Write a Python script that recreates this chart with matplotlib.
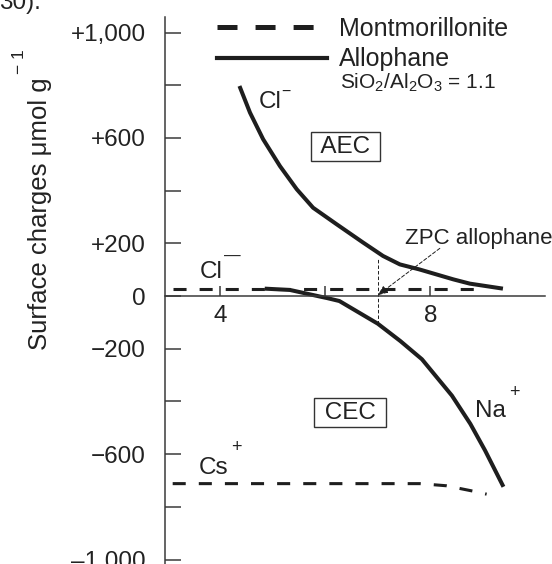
import numpy as np
import matplotlib
matplotlib.use("Agg")
import matplotlib.pyplot as plt
from matplotlib.lines import Line2D

plt.rcParams['font.family'] = ['Liberation Sans', 'DejaVu Sans']
plt.rcParams['mathtext.fontset'] = 'custom'
plt.rcParams['mathtext.rm'] = 'Liberation Sans'
plt.rcParams['mathtext.it'] = 'Liberation Sans'
plt.rcParams['lines.scale_dashes'] = False

# allophane (SiO2/Al2O3 = 1.1), Cl- adsorption (AEC)
ph_aec = [4.37, 4.57, 4.82, 5.14, 5.46, 5.77, 6.22, 6.72, 7.1, 7.42, 7.79, 8.44, 8.75, 9.38]
aec = [797, 696, 595, 493, 405, 335, 272, 203, 152, 120, 101, 63, 47, 28]

# allophane, Na+ adsorption (CEC, plotted negative)
ph_cec = [4.85, 5.33, 5.9, 6.04, 6.27, 7.0, 7.43, 7.84, 8.41, 8.76, 9.04, 9.39]
cec = [28, 23, -2, -8, -19, -105, -171, -240, -378, -485, -586, -724]

# montmorillonite
ph_mont_cl = [3.1, 8.87]
mont_cl = [27, 27]
ph_mont_cs = [3.1, 7.8, 8.3, 8.8, 9.07]
mont_cs = [-712, -712, -720, -740, -752]

zpc = 7.0
zpc_top = 146
zpc_bottom = -105

yticks_major = [1000, 600, 200, 0, -200, -600, -1000]
ytick_labels = ['+1,000', '+600', '+200', '0', '\u2212200', '\u2212600', '\u20131,000']
yticks_minor = [800, 400, -400, -800]
xticks = [4, 6, 8]
xtick_labels = ['4', '', '8']

ink = '#1e1e1e'
axis_col = '#3a3a3a'

fig = plt.figure(figsize=(5.52, 5.64), dpi=100)
ax = fig.add_axes([165 / 552, 0, (545 - 165) / 552, (564 - 16.7) / 564])
ax.set_xlim(2.954, 10.18)
ax.set_ylim(-1017, 1060)

ax.plot(ph_aec, aec, color=ink, lw=2.9, solid_joinstyle='round', solid_capstyle='butt')
ax.plot(ph_cec, cec, color=ink, lw=2.9, solid_joinstyle='round', solid_capstyle='butt')
ax.plot(ph_mont_cl, mont_cl, color=ink, lw=2.2, dashes=(9.4, 9.4))
ax.plot(ph_mont_cs, mont_cs, color=ink, lw=2.2, dashes=(9.4, 9.4))

ax.vlines(zpc, zpc_bottom, zpc_top, color=ink, lw=0.7, linestyles=[(0, (2.5, 1.5))])
ax.annotate('', xy=(zpc, 3), xytext=(8.18, 181),
            arrowprops=dict(arrowstyle='-|>,head_length=0.6,head_width=0.25', color=ink,
                            lw=0.7, linestyle=(0, (2.5, 1.5)), shrinkA=0, shrinkB=0))

# axes
for s in ['top', 'right']:
    ax.spines[s].set_visible(False)
ax.spines['bottom'].set_position(('data', 0))
ax.spines['left'].set_color(axis_col)
ax.spines['bottom'].set_color(axis_col)
ax.spines['left'].set_linewidth(1.1)
ax.spines['bottom'].set_linewidth(1.1)

ax.set_yticks(yticks_major)
ax.set_yticklabels(ytick_labels)
ax.set_yticks(yticks_minor, minor=True)
ax.tick_params(axis='y', which='both', direction='in', length=11.5, width=1.1,
               color=axis_col, labelsize=17.5, pad=13.7, labelcolor='#222222')
ax.set_xticks(xticks)
ax.set_xticklabels(xtick_labels)
ax.tick_params(axis='x', direction='in', length=7, width=1.1, color=axis_col,
               labelsize=17.5, pad=6.5, labelcolor='#222222')

# labels
fig.text(40 / 552, 1 - 214 / 564, 'Surface charges \u03bcmol g', rotation=90,
         ha='center', va='center', fontsize=18.5, color='#222222')
fig.text(20 / 552, 1 - 62 / 564, '\u2212 1', rotation=90,
         ha='center', va='center', fontsize=12.5, color='#222222')
fig.text(-1 / 552, 1 - 8.5 / 564, '30).', ha='left', va='baseline', fontsize=17.5,
         color='#222222')

tc = '#222222'
ax.text(4.73, 715, 'Cl', fontsize=17.5, color=tc, va='baseline')
ax.text(5.26, 778, '\u2212', fontsize=11.5, color=tc, ha='center', va='center')
ax.text(3.61, 70, 'Cl', fontsize=17.5, color=tc, va='baseline')
ax.text(4.24, 150, '\u2014', fontsize=12, color=tc, ha='center', va='center')
ax.text(8.85, -460, 'Na', fontsize=17.5, color=tc, va='baseline')
ax.text(9.59, -368, '+', fontsize=13, color=tc, ha='center', va='center')
ax.text(3.60, -675, 'Cs', fontsize=17.5, color=tc, va='baseline')
ax.text(4.31, -575, '+', fontsize=13, color=tc, ha='center', va='center')
ax.text(7.52, 196, 'ZPC allophane', fontsize=16, color=tc, va='baseline')

box = dict(boxstyle='square,pad=0.15', fc='white', ec='#333333', lw=1)
ax.text(6.39, 567, ' AEC ', fontsize=17.5, color=tc, ha='center', va='center', bbox=box)
ax.text(6.47, -443, ' CEC ', fontsize=17.5, color=tc, ha='center', va='center', bbox=box)

# legend
handles = [Line2D([], [], color=ink, lw=3.6, dashes=(14.4, 13)),
           Line2D([], [], color=ink, lw=3.0)]
fig.legend(handles, ['Montmorillonite', 'Allophane'], loc='upper left',
           bbox_to_anchor=(217 / 552, 1 - 17 / 564), frameon=False, fontsize=18,
           handlelength=4.4, handletextpad=0.48, labelspacing=0.25, borderpad=0,
           borderaxespad=0, labelcolor=tc)
ax.text(6.29, 788, r'SiO$_2$/Al$_2$O$_3$ = 1.1', fontsize=15, color=tc, va='baseline')

fig.savefig('out.png', dpi=100)
